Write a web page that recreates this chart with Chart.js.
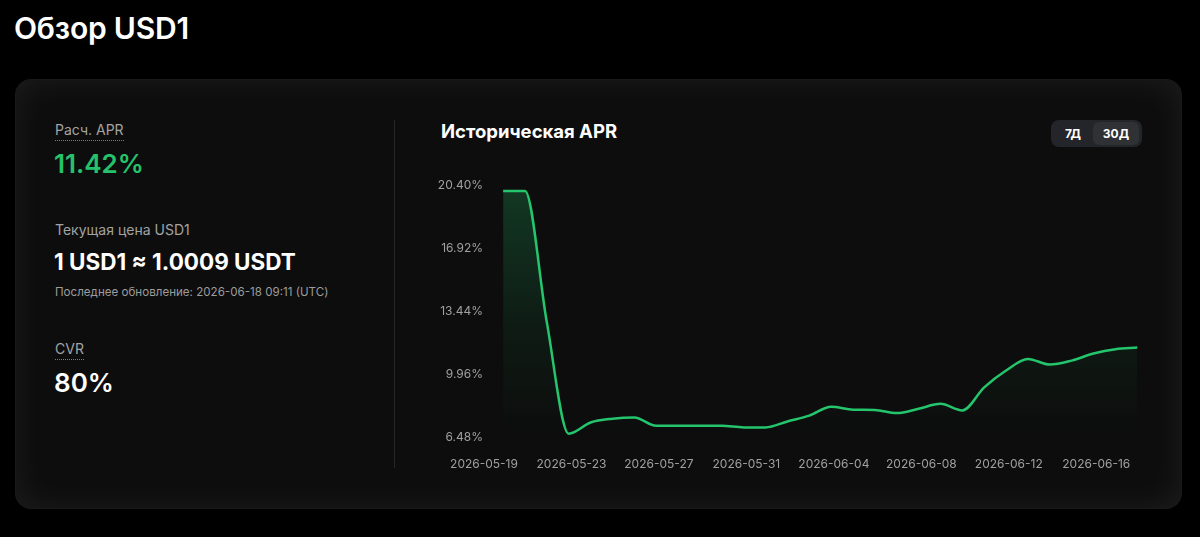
<!DOCTYPE html>
<html lang="ru">
<head>
<meta charset="utf-8">
<title>Обзор USD1</title>
<script src="https://cdn.jsdelivr.net/npm/chart.js@4.4.1/dist/chart.umd.min.js"></script>
<style>
  html, body { margin: 0; padding: 0; background: #000; }
  body { width: 1200px; height: 537px; position: relative; overflow: hidden; font-family: Inter, "Noto Sans", sans-serif; color: #fff; }
  .abs { position: absolute; white-space: nowrap; }
  h1 { position: absolute; left: 14px; top: 10px; margin: 0; font-size: 30px; font-weight: 600; letter-spacing: -0.2px; }
  .card {
    position: absolute; left: 15px; top: 79px; width: 1167px; height: 430px;
    border-radius: 16px; background: #0d0d0d; box-sizing: border-box;
    border: 1px solid rgba(255,255,255,0.05);
    box-shadow: inset 0 0 34px rgba(255,255,255,0.07);
  }
  .lbl { font-size: 14px; color: #a3a3a3; }
  .dotted { border-bottom: 1px dotted #7a7a7a; padding-bottom: 2px; }
  .big { font-size: 26px; font-weight: 600; }
  .divider { position: absolute; left: 394px; top: 120px; width: 1px; height: 348px; background: #262626; }
  .tabs { position: absolute; left: 1051px; top: 120px; width: 91px; height: 27px; background: #23252a; border-radius: 8px; }
  .tab { position: absolute; top: 2px; height: 23px; line-height: 23px; font-size: 12px; font-weight: 700; text-align: center; border-radius: 6px; }
  #wrap { position: absolute; left: 420px; top: 170px; width: 740px; height: 307px; }
</style>
</head>
<body>
<h1>Обзор USD1</h1>
<div class="card"></div>

<div class="abs lbl dotted" style="left:55px; top:121px;">Расч. APR</div>
<div class="abs big" style="left:54px; top:148px; color:#25c26b;">11.42%</div>

<div class="abs lbl" style="left:55px; top:221px;">Текущая цена USD1</div>
<div class="abs" style="left:54px; top:248px; font-size:22.5px; font-weight:700;">1 USD1 ≈ 1.0009 USDT</div>
<div class="abs" style="left:55px; top:285px; font-size:11.6px; color:#9c9c9c;">Последнее обновление: 2026-06-18 09:11 (UTC)</div>

<div class="abs lbl dotted" style="left:55px; top:340px;">CVR</div>
<div class="abs big" style="left:54px; top:367px;">80%</div>

<div class="divider"></div>

<div class="abs" style="left:441px; top:120px; font-size:18.5px; font-weight:700;">Историческая APR</div>
<div class="tabs">
  <div class="tab" style="left:3px; width:38px;">7Д</div>
  <div class="tab" style="left:42px; width:46px; background:#2f3135;">30Д</div>
</div>

<div id="wrap"><canvas id="aprChart"></canvas></div>

<script>
// данные графика
const START_DAY = '2026-05-19';
const END_DAY = '2026-06-18';
const SAMPLE_HOUR = 21; // снимок каждый день в 21:00 UTC

const dates = [
  '2026-05-19', '2026-05-20', '2026-05-21', '2026-05-22', '2026-05-23', '2026-05-24',
  '2026-05-25', '2026-05-26', '2026-05-27', '2026-05-28', '2026-05-29', '2026-05-30',
  '2026-05-31', '2026-06-01', '2026-06-02', '2026-06-03', '2026-06-04', '2026-06-05',
  '2026-06-06', '2026-06-07', '2026-06-08', '2026-06-09', '2026-06-10', '2026-06-11',
  '2026-06-12', '2026-06-13', '2026-06-14', '2026-06-15', '2026-06-16', '2026-06-17'
];
const aprValues = [
  20.07, 20.07, 12.80, 6.66, 7.28, 7.49,
  7.56, 7.10, 7.10, 7.10, 7.10, 7.01,
  7.01, 7.34, 7.66, 8.15, 7.99, 7.97,
  7.80, 8.04, 8.31, 7.95, 9.22, 10.15,
  10.79, 10.48, 10.70, 11.09, 11.33, 11.42
];
const yTicks = [6.48, 9.96, 13.44, 16.92, 20.40];
const xTickLabels = ['2026-05-19', '2026-05-23', '2026-05-27', '2026-05-31', '2026-06-04', '2026-06-08', '2026-06-12', '2026-06-16'];

const GREEN = '#24c56c';

function dayOffset(day) {
  return (Date.parse(day + 'T00:00:00Z') - Date.parse(START_DAY + 'T00:00:00Z')) / 86400000;
}

const points = dates.map((d, i) => ({ x: dayOffset(d) + SAMPLE_HOUR / 24, y: aprValues[i] }));

function makeFill(context) {
  const chart = context.chart;
  const area = chart.chartArea;
  if (!area) return 'rgba(36, 197, 108, 0.1)';
  const g = chart.ctx.createLinearGradient(0, area.top, 0, area.bottom);
  g.addColorStop(0, 'rgba(36, 197, 108, 0.24)');
  g.addColorStop(0.6, 'rgba(36, 197, 108, 0.07)');
  g.addColorStop(1, 'rgba(36, 197, 108, 0.0)');
  return g;
}

const tickFont = { family: 'Inter', size: 12 };

document.addEventListener('DOMContentLoaded', () => {
  const ctx = document.getElementById('aprChart').getContext('2d');
  new Chart(ctx, {
    type: 'line',
    data: {
      datasets: [{
        label: 'APR',
        data: points,
        borderColor: GREEN,
        borderWidth: 2.5,
        backgroundColor: makeFill,
        fill: 'start',
        cubicInterpolationMode: 'monotone',
        pointRadius: 0,
        pointHoverRadius: 0,
      }]
    },
    options: {
      responsive: true,
      maintainAspectRatio: false,
      animation: false,
      layout: { padding: { top: 15, right: 20, left: 0, bottom: 0 } },
      plugins: { legend: { display: false }, tooltip: { enabled: false } },
      scales: {
        x: {
          type: 'linear',
          min: 0,
          max: dayOffset(END_DAY),
          grid: { display: false, drawTicks: false },
          border: { display: false },
          afterBuildTicks: (scale) => { scale.ticks = xTickLabels.map(d => ({ value: dayOffset(d) })); },
          afterFit: (scale) => { scale.height = 40; },
          ticks: {
            autoSkip: false,
            maxRotation: 0,
            padding: 20,
            color: '#a0a0a0',
            font: tickFont,
            callback: (value, index) => xTickLabels[index],
          },
        },
        y: {
          min: yTicks[0],
          max: yTicks[yTicks.length - 1],
          grid: { display: false, drawTicks: false },
          border: { display: false },
          afterBuildTicks: (scale) => { scale.ticks = yTicks.map(v => ({ value: v })); },
          afterFit: (scale) => { scale.width = 64; },
          ticks: {
            padding: 1,
            color: '#a0a0a0',
            font: tickFont,
            callback: (value) => value.toFixed(2) + '%',
          },
        },
      },
    },
  });
});
</script>
</body>
</html>
